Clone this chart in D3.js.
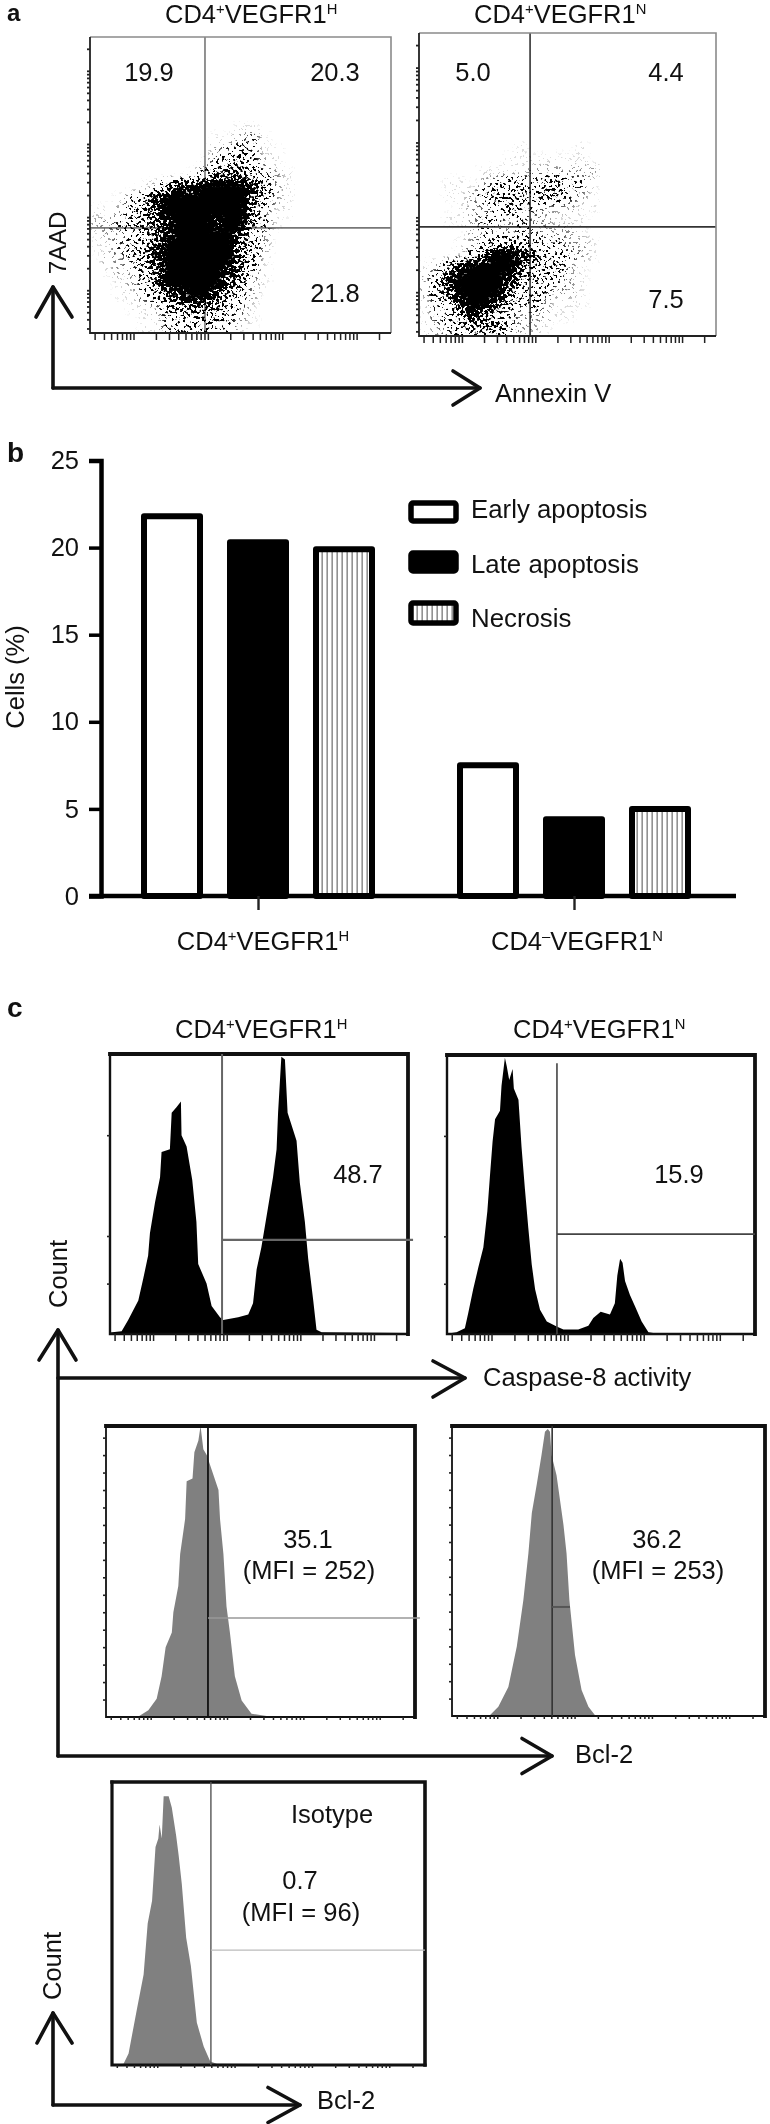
<!DOCTYPE html>
<html>
<head>
<meta charset="utf-8">
<script src="https://cdn.jsdelivr.net/npm/d3@7/dist/d3.min.js"></script>
<style>
html,body{margin:0;padding:0;background:#fff}
svg{display:block;filter:blur(.35px)}
text{font-family:"Liberation Sans",Arial,sans-serif;fill:#111}
</style>
</head>
<body>
<svg id="chart" width="770" height="2124"></svg>
<script>
// ---------- data ----------
const barGroups = ["CD4+VEGFR1H", "CD4-VEGFR1N"];
const barSeries = ["Early apoptosis", "Late apoptosis", "Necrosis"];
const earlyApoptosis = [21.8, 7.5];
const lateApoptosis = [20.3, 4.4];
const necrosis = [19.9, 5.0];
const barTicks = [0, 5, 10, 15, 20, 25];

// dot density per grid cell (0 empty .. 9 solid), panel a
const densityHigh = [
"0000000000000000000000000","0000000000000000000000000","0000000000000000000000000","0000000000000000000000000",
"0000000000000000000000000","0000000000000000000000000","0000000000000000000000000",
"0000000000001100000000000",
"0000000000112310000000000",
"0000000000234311000000000",
"0000000001345321000000000",
"0000000014666432100000000",
"0000126889999852100000000",
"0013489999999642100000000",
"1124579999999631100000000",
"2234568999899531000000000",
"1223468999997420000000000",
"1133579999996420000000000",
"0223579999996410000000000",
"0122469999986310000000000",
"0012369999975210000000000",
"0011346899753200000000000",
"0001124566543100000000000",
"0000113444432100000000000",
"0000113334331000000000000"];
const densityNormal = [
"0000000000000000000000000","0000000000000000000000000","0000000000000000000000000","0000000000000000000000000",
"0000000000000000000000000","0000000000000000000000000","0000000000000000000000000","0000000000000000000000000",
"0000000000000000000000000",
"0000000010000100000000000",
"0000000111111100000000000",
"0000011112222220000000000",
"0011023443453310000000000",
"0011245444553210000000000",
"0001223533222110000000000",
"0011233232211100000000000",
"0000232233222100000000000",
"0001234543332210000000000",
"0001479986333210000000000",
"1258999964442100000000000",
"2489999854332100000000000",
"2479999643322100000000000",
"1348997434211100000000000",
"1335864322211000000000000",
"1234556322100000000000000",
"1223443210000000000000000"];
const quadrantHigh = ["19.9", "20.3", "21.8"];
const quadrantNormal = ["5.0", "4.4", "7.5"];

// histogram outlines: [channel %, count %]
const caspaseHigh = [[0,.5],[3.9,1],[6.1,5],[9.5,12],[11.2,20],[12.8,28],[13.4,36],[15.1,47],[16.8,56],[17.3,65],[20.1,66],[20.7,79],[22.3,81],[23.8,83],[24,71],[25.7,67],[27.6,55],[29,40],[29.6,25],[32.4,18],[34.1,10],[36.9,6],[38,5],[43,6],[46.4,7],[48,11],[49.2,23],[50.8,31],[53,45],[54.7,56],[55.9,66],[56.4,79],[57.5,99],[58.7,98],[59.6,79],[62.6,69],[63.7,54],[65.4,40],[66.5,27],[68.2,12],[69.3,1.5],[71,.6],[100,.4]];
const caspaseNormal = [[0,.1],[3.1,.6],[5.8,2.1],[6.9,7.5],[8.5,16],[10.2,24],[11.8,31],[13.1,44],[13.9,56],[14.8,69],[15.6,77],[17.2,80],[17.7,89],[18.8,99],[19.4,96],[20.2,91],[21.3,95],[21.7,88],[23.2,84],[24.2,67],[25.3,52],[26.4,38],[27.5,25],[28.6,16],[30.2,8.7],[32.4,4.5],[35.6,2.7],[37.8,1.6],[42.6,1.6],[45.9,3],[47.5,5.7],[49.9,8],[52.9,7],[54.5,11],[55.3,21],[56.2,27],[57,25.5],[57.8,19],[59.4,14],[61,10],[63.2,4.5],[65.4,.6],[68,.2],[100,.1]];
const bcl2High = [[0,.2],[10.5,.2],[13.7,2.3],[16.4,6.3],[18,14],[19.3,24],[21.3,29],[21.8,36],[23.4,45],[24,56],[25.6,68],[26.1,81],[28,82],[28.6,91],[29.9,95],[30.6,100],[31.5,92],[32.6,90],[34.2,85],[36.4,78],[36.9,68],[38,56],[39,38],[40.1,29],[41.7,14],[43.9,5.7],[47.1,1.1],[52.5,.3],[100,.2]];
const bcl2Normal = [[0,.1],[12.1,.3],[14.8,3.2],[18,10],[20.7,24],[22.8,40],[24.4,56],[25.5,70],[27.1,80],[28.6,90],[29.7,98],[30.6,99],[31.3,98],[31.8,90],[33.4,83],[35.6,66],[36.6,56],[37.5,40],[39.3,21],[41.4,9],[43.6,3.2],[45.7,.3],[100,.1]];
const isotype = [[0,.2],[3.7,.4],[5.3,4.1],[8,20],[10.1,32],[11.4,50],[12.8,58],[13.9,77],[14.8,80],[15.2,85],[15.9,80],[16.5,95],[18.1,95],[19.1,91],[20.5,81],[21.3,74],[22.3,64],[23.7,45],[25.2,35],[27.1,15],[29.3,6.5],[31.4,1.2],[33.5,.4],[100,.2]];

// ---------- drawing ----------
const FS = 25.5;
const svg = d3.select("#chart");
const defs = svg.append("defs");

// stipple filter: turns a smooth density into grainy flow-cytometry dots
const f = defs.append("filter").attr("id","stipple").attr("x",0).attr("y",0).attr("width",1).attr("height",1)
  .attr("color-interpolation-filters","sRGB");
f.append("feGaussianBlur").attr("in","SourceAlpha").attr("stdDeviation",3).attr("result","d");
f.append("feTurbulence").attr("type","fractalNoise").attr("baseFrequency",.36).attr("numOctaves",2).attr("seed",7).attr("result","t");
f.append("feColorMatrix").attr("in","t").attr("type","matrix")
  .attr("values","0 0 0 0 0  0 0 0 0 0  0 0 0 0 0  3 0 0 0 -1.05").attr("result","n");
f.append("feComposite").attr("in","d").attr("in2","n").attr("operator","arithmetic")
  .attr("k1",0).attr("k2",1.15).attr("k3",-1).attr("k4",0).attr("result","diff");
const ct = f.append("feComponentTransfer").attr("in","diff").attr("result","th");
ct.append("feFuncA").attr("type","linear").attr("slope",7).attr("intercept",0);
f.append("feGaussianBlur").attr("in","th").attr("stdDeviation",.45);

// vertical stripes for necrosis
const pat = defs.append("pattern").attr("id","stripes").attr("patternUnits","userSpaceOnUse")
  .attr("width",5).attr("height",10);
pat.append("rect").attr("width",5).attr("height",10).attr("fill","#fff");
pat.append("rect").attr("x",1.5).attr("width",1.3).attr("height",10).attr("fill","#777");

function rich(parent, x, y, parts, anchor, size) {
  const t = parent.append("text").attr("x",x).attr("y",y).attr("text-anchor",anchor||"start")
    .attr("font-size",size||FS);
  parts.forEach((p,i)=>{
    const isSup = i%2===1;
    const s = t.append("tspan").text(p);
    if (isSup) s.attr("font-size",(size||FS)*.58).attr("dy",-(size||FS)*.36);
    else if (i>0) s.attr("dy",(size||FS)*.36);
  });
  return t;
}
function label(x,y,txt,anchor,size,weight){
  return svg.append("text").attr("x",x).attr("y",y).attr("text-anchor",anchor||"middle")
    .attr("font-size",size||FS).attr("font-weight",weight||null).text(txt);
}
function vLabel(x,cy,txt,size){
  return svg.append("text").attr("transform",`translate(${x},${cy}) rotate(-90)`)
    .attr("text-anchor","middle").attr("font-size",size||FS).text(txt);
}
const pen = d3.line();
function arrow(corner, top, right){
  const g = svg.append("g").attr("fill","none").attr("stroke","#111").attr("stroke-width",3.6)
    .attr("stroke-linecap","round").attr("stroke-linejoin","round");
  if (top) {
    g.append("path").attr("d",pen([[corner[0],corner[1]],[corner[0],top[1]]]));
    g.append("path").attr("d",pen([[top[0],top[2]],[corner[0],top[1]],[top[3],top[2]]]));
  }
  if (right) {
    g.append("path").attr("d",pen([[corner[0],corner[1]],[right[0],corner[1]]]));
    g.append("path").attr("d",pen([[right[1],corner[1]-right[2]],[right[0],corner[1]],[right[1],corner[1]+right[2]]]));
  }
}
function logTicks(g, scale, orient, size, width){
  const ax = (orient==="b"?d3.axisBottom(scale):d3.axisLeft(scale)).tickSize(size).tickFormat("");
  g.call(ax);
  g.select(".domain").remove();
  g.selectAll("line").attr("stroke","#222").attr("stroke-width",width||1.5);
}

// ----- panel a -----
label(7,21,"a","start",24,"bold");
rich(svg,165,23,["CD4","+","VEGFR1","H"]);
rich(svg,474,23,["CD4","+","VEGFR1","N"]);
function scatter(id,box,grid,gate,labels,lpos,stroke){
  const g = svg.append("g");
  const cols = grid[0].length, rows = grid.length;
  defs.append("clipPath").attr("id",id).append("rect")
    .attr("x",box.l).attr("y",box.t).attr("width",box.r-box.l).attr("height",box.b-box.t);
  const sx = d3.scaleLinear([0,cols],[box.l,box.l+12*cols]);
  const sy = d3.scaleLinear([0,rows],[box.t,box.t+12*rows]);
  const op = d3.scalePow().exponent(1.9).domain([0,9]).range([0,1]);
  const cells = [];
  grid.forEach((row,r)=>row.split("").forEach((v,c)=>{ if(+v>0) cells.push({r,c,v:+v}); }));
  const px = d3.scaleLinear([0,100],[box.l,box.r]), py = d3.scaleLinear([0,100],[box.b,box.t]);
  // gates sit under the dots
  g.append("line").attr("x1",px(gate[0])).attr("x2",px(gate[0])).attr("y1",box.t).attr("y2",box.b)
    .attr("stroke",stroke).attr("stroke-width",1.6);
  g.append("line").attr("x1",box.l).attr("x2",box.r).attr("y1",py(gate[1])).attr("y2",py(gate[1]))
    .attr("stroke",stroke).attr("stroke-width",1.6);
  g.append("g").attr("clip-path",`url(#${id})`)
   .append("g").attr("filter","url(#stipple)")
   .selectAll("rect").data(cells).join("rect")
    .attr("x",d=>sx(d.c)).attr("y",d=>sy(d.r))
    .attr("width",sx(1)-sx(0)+.5).attr("height",sy(1)-sy(0)+.5)
    .attr("fill","#000").attr("fill-opacity",d=>op(d.v));
  // frame
  g.append("path").attr("fill","none").attr("stroke","#8a8a8a").attr("stroke-width",1.6)
    .attr("d",pen([[box.l,box.t],[box.r,box.t],[box.r,box.b]]));
  g.append("path").attr("fill","none").attr("stroke","#222").attr("stroke-width",1.8)
    .attr("d",pen([[box.l,box.t],[box.l,box.b],[box.r,box.b]]));
  // log axes
  const lx = d3.scaleLog([2.6,29000],[box.l,box.r]);
  const ly = d3.scaleLog([2.6,29000],[box.b,box.t]);
  logTicks(g.append("g").attr("transform",`translate(0,${box.b})`),lx,"b",7);
  logTicks(g.append("g").attr("transform",`translate(${box.l},0)`),ly,"l",3,1.8);
  labels.forEach((t,i)=>label(lpos[i][0],lpos[i][1],t));
}
scatter("clipA1",{l:90,r:391,t:37,b:333},densityHigh,[38.2,35.5],quadrantHigh,[[149,81],[335,81],[335,302]],"#777");
scatter("clipA2",{l:419,r:716,t:33,b:336},densityNormal,[37.4,36],quadrantNormal,[[473,81],[666,81],[666,308]],"#333");
arrow([53,388],[36,287,317,72],[480,453,17]);
vLabel(66,243,"7AAD",24);
label(495,402,"Annexin V","start");

// ----- panel b -----
label(7,462,"b","start",28,"bold");
const yB = d3.scaleLinear([0,25],[896,460.5]);
const gx = d3.scalePoint(barGroups,[258,574]);
const sx1 = d3.scalePoint(barSeries,[-86,86]);
const barW = 56;
const fills = {"Early apoptosis":"#fff","Late apoptosis":"#000","Necrosis":"url(#stripes)"};
const seriesValues = {"Early apoptosis":earlyApoptosis,"Late apoptosis":lateApoptosis,"Necrosis":necrosis};
const barData = [];
barGroups.forEach((g,i)=>barSeries.forEach(s=>barData.push({g,s,v:seriesValues[s][i]})));
svg.append("g").selectAll("rect").data(barData).join("rect")
  .attr("x",d=>gx(d.g)+sx1(d.s)-barW/2).attr("width",barW)
  .attr("y",d=>yB(d.v)).attr("height",d=>yB(0)-yB(d.v))
  .attr("fill",d=>fills[d.s]).attr("stroke","#000").attr("stroke-width",6).attr("stroke-linejoin","round");
const yAxisB = svg.append("g").attr("transform","translate(101,0)")
  .call(d3.axisLeft(yB).tickValues(barTicks).tickSize(12).tickPadding(10));
yAxisB.select(".domain").attr("stroke","#000").attr("stroke-width",4.5);
yAxisB.selectAll("line").attr("stroke","#000").attr("stroke-width",3.5);
yAxisB.selectAll("text").attr("font-size",FS).attr("font-family",'"Liberation Sans"').attr("fill","#111");
const xAxisB = svg.append("g").attr("transform","translate(0,896)")
  .call(d3.axisBottom(gx).tickSize(14).tickFormat(""));
xAxisB.select(".domain").attr("d",pen([[89,0],[736,0]])).attr("stroke","#000").attr("stroke-width",4.5);
xAxisB.selectAll("line").attr("stroke","#222").attr("stroke-width",2.4);
rich(svg,263,950,["CD4","+","VEGFR1","H"],"middle");
rich(svg,577,950,["CD4","–","VEGFR1","N"],"middle");
vLabel(24,677,"Cells (%)");
const legendRows = [[503,18],[553,18],[603,20]];
const legendText = [518,573,627];
barSeries.forEach((s,i)=>{
  svg.append("rect").attr("x",411).attr("y",legendRows[i][0]).attr("width",45).attr("height",legendRows[i][1])
    .attr("rx",2).attr("fill",fills[s]).attr("stroke","#000").attr("stroke-width",5.5);
  label(471,legendText[i],s,"start",25.8);
});

// ----- panel c -----
label(7,1017,"c","start",28,"bold");
rich(svg,175,1038,["CD4","+","VEGFR1","H"]);
rich(svg,513,1038,["CD4","+","VEGFR1","N"]);
function hist(box,data,fill,gate,opts){
  const g = svg.append("g");
  const x = d3.scaleLinear([0,100],[box.l,box.r]);
  const y = d3.scaleLinear([0,100],[box.b,box.t]);
  const area = d3.area().x(d=>x(d[0])).y0(y(0)).y1(d=>y(d[1]));
  g.append("path").datum(data).attr("fill",fill).attr("d",area);
  // thick top and right, thinner left and bottom
  g.append("path").attr("fill","none").attr("stroke","#111").attr("stroke-width",opts.thick||3.8).attr("stroke-linecap","square")
    .attr("d",pen([[box.l,box.t],[box.r,box.t],[box.r,box.b]]));
  g.append("path").attr("fill","none").attr("stroke","#111").attr("stroke-width",opts.thin||2.4).attr("stroke-linecap","square")
    .attr("d",pen([[box.l,box.t],[box.l,box.b],[box.r,box.b]]));
  g.append("line").attr("x1",x(gate.x)).attr("x2",x(gate.x)).attr("y1",y(gate.vTop)).attr("y2",box.b)
    .attr("stroke",opts.gateColor).attr("stroke-width",opts.vw||1.6);
  g.append("line").attr("x1",x(gate.x)).attr("x2",x(gate.xEnd)).attr("y1",y(gate.y)).attr("y2",y(gate.y))
    .attr("stroke",opts.hColor||opts.gateColor).attr("stroke-width",opts.hw||1.8);
  const lx = d3.scaleLog([2.6,29000],[box.l,box.r]);
  logTicks(g.append("g").attr("transform",`translate(0,${box.b})`),lx,"b",opts.tick||7);
  if (opts.left) {
    const a = d3.axisLeft(y).tickValues(opts.left).tickSize(3).tickFormat("");
    const la = g.append("g").attr("transform",`translate(${box.l},0)`).call(a);
    la.select(".domain").remove();
    la.selectAll("line").attr("stroke","#222").attr("stroke-width",1.6);
  }
}
hist({l:110,r:408,t:1054,b:1334},caspaseHigh,"#000",{x:37.6,y:33.6,vTop:100,xEnd:101.7},{gateColor:"#666",vw:2,hw:2.2,left:[18,35,71]});
hist({l:447,r:755,t:1055,b:1334},caspaseNormal,"#000",{x:35.7,y:35.8,vTop:97,xEnd:100},{gateColor:"#444",left:[18,35,71]});
label(358,1183,"48.7");
label(679,1183,"15.9");
arrow([58,1756],[39,1330,1360,76],null);
svg.append("path").attr("fill","none").attr("stroke","#111").attr("stroke-width",3.6).attr("stroke-linecap","round")
  .attr("d",pen([[58,1378],[465,1378]]));
svg.append("path").attr("fill","none").attr("stroke","#111").attr("stroke-width",3.6).attr("stroke-linecap","round").attr("stroke-linejoin","round")
  .attr("d",pen([[433,1361],[465,1378],[433,1397]]));
vLabel(67,1274,"Count",FS);
label(483,1386,"Caspase-8 activity","start");

const leftTicks = [6,12,18,24,30,36,42,48,54,60,66,72,78,84,90,96];
hist({l:106,r:415,t:1426,b:1717},bcl2High,"#808080",{x:33,y:34,vTop:100,xEnd:101.6},{gateColor:"#111",hColor:"#999",hw:1.4,vw:1.8,tick:3,left:leftTicks,thin:1.8});
hist({l:452,r:765,t:1426,b:1716},bcl2Normal,"#808080",{x:32,y:37.6,vTop:100,xEnd:37.7},{gateColor:"#333",hColor:"#555",hw:2,vw:1.6,tick:3,left:leftTicks,thin:1.8});
label(308,1548,"35.1");
label(309,1579,"(MFI = 252)");
label(657,1548,"36.2");
label(658,1579,"(MFI = 253)");
arrow([58,1756],null,[552,522,17.5]);
label(575,1763,"Bcl-2","start");

hist({l:112,r:425,t:1782,b:2065},isotype,"#808080",{x:31.6,y:40.6,vTop:100,xEnd:100},{gateColor:"#555",hColor:"#bbb",hw:1.2,vw:1.4,tick:3,thin:3.2,thick:3.6});
label(332,1823,"Isotype");
label(300,1889,"0.7");
label(301,1921,"(MFI = 96)");
arrow([53,2105],[37,2013,2043,72],[300,268,17.5]);
vLabel(61,1966,"Count");
label(317,2109,"Bcl-2","start");
</script>
</body>
</html>
